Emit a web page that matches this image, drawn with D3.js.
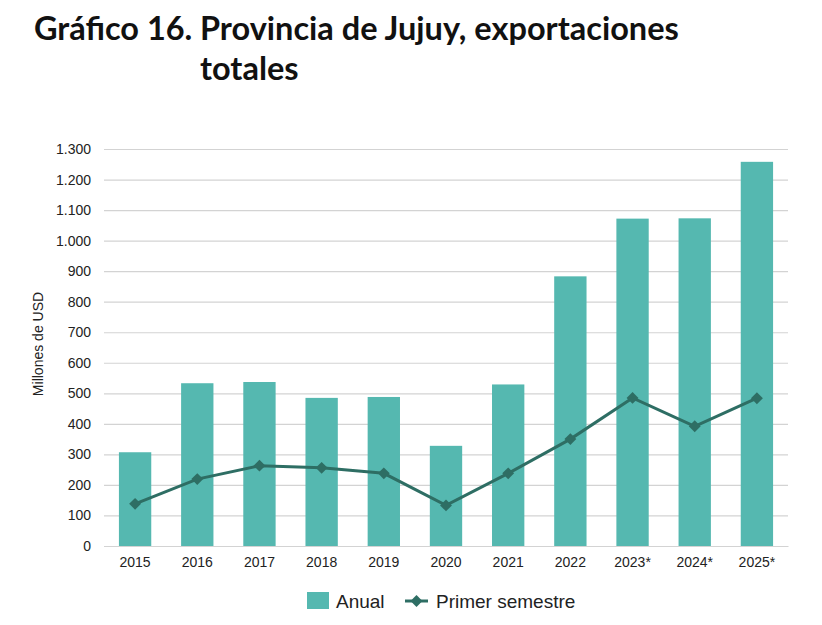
<!DOCTYPE html>
<html>
<head>
<meta charset="utf-8">
<script src="https://cdn.jsdelivr.net/npm/d3@7"></script>
<style>
  body { margin: 0; background: #fff; }
  svg { display: block; }
  .tick text { font-family: "Liberation Sans", Arial, sans-serif; font-size: 14px; fill: #222; }
</style>
</head>
<body>
<div id="chart"></div>
<script>
const width = 822;
const height = 625;

const years = ["2015", "2016", "2017", "2018", "2019", "2020", "2021", "2022", "2023*", "2024*", "2025*"];
const anual = [307, 533, 537, 485, 488, 328, 529, 883, 1072, 1073, 1258];
const primerSemestre = [138, 219, 263, 256, 238, 133, 238, 350, 485, 392, 484];
const yTicks = [0, 100, 200, 300, 400, 500, 600, 700, 800, 900, 1000, 1100, 1200, 1300];

const barColor = "#55b8b0";
const lineColor = "#2e6e64";

const margin = { top: 149, left: 104, right: 34, bottom: 79 };

const svg = d3
  .select("#chart")
  .append("svg")
  .attr("width", width)
  .attr("height", height);

// Title
const title = svg
  .append("g")
  .style("font-family", "Lato, 'Noto Sans', sans-serif")
  .style("font-weight", 700)
  .style("font-size", "32.5px")
  .attr("fill", "#111");
title.append("text").attr("x", 34).attr("y", 40).text("Gráfico 16.");
title.append("text").attr("x", 200).attr("y", 40).text("Provincia de Jujuy, exportaciones");
title.append("text").attr("x", 200).attr("y", 80).text("totales");

const x = d3
  .scaleBand()
  .domain(years)
  .range([margin.left, width - margin.right])
  .paddingInner(0.48)
  .paddingOuter(0.24);

const y = d3
  .scaleLinear()
  .domain([0, 1300])
  .range([height - margin.bottom, margin.top]);

const fmt = (v) => d3.format(",")(v).replace(/,/g, ".");

// Gridlines + y axis
const yAxis = svg
  .append("g")
  .attr("transform", `translate(${margin.left},0)`)
  .call(
    d3
      .axisLeft(y)
      .tickValues(yTicks)
      .tickFormat(fmt)
      .tickSize(-(width - margin.left - margin.right))
      .tickPadding(13)
  );
yAxis.select(".domain").remove();
yAxis.selectAll(".tick line").attr("stroke", "#d3d3d3").attr("stroke-width", 1.2);

// Bars
svg
  .append("g")
  .selectAll("rect")
  .data(anual)
  .join("rect")
  .attr("x", (d, i) => x(years[i]))
  .attr("y", (d) => y(d))
  .attr("width", x.bandwidth())
  .attr("height", (d) => y(0) - y(d))
  .attr("fill", barColor);

// X axis
const xAxis = svg
  .append("g")
  .attr("transform", `translate(0,${y(0)})`)
  .call(d3.axisBottom(x).tickSize(0).tickPadding(11));
xAxis.select(".domain").attr("stroke", "#d3d3d3").attr("stroke-width", 1.2);

// Line
const line = d3
  .line()
  .x((d, i) => x(years[i]) + x.bandwidth() / 2)
  .y((d) => y(d));

svg
  .append("path")
  .datum(primerSemestre)
  .attr("d", line)
  .attr("fill", "none")
  .attr("stroke", lineColor)
  .attr("stroke-width", 3);

const diamond = d3.symbol().type(d3.symbolDiamond2).size(90);
svg
  .append("g")
  .selectAll("path")
  .data(primerSemestre)
  .join("path")
  .attr("d", diamond)
  .attr("transform", (d, i) => `translate(${x(years[i]) + x.bandwidth() / 2},${y(d)})`)
  .attr("fill", lineColor);

// Y axis label
svg
  .append("text")
  .attr("transform", "translate(43,344) rotate(-90)")
  .attr("text-anchor", "middle")
  .style("font-family", "'Liberation Sans', Arial, sans-serif")
  .style("font-size", "14px")
  .attr("fill", "#222")
  .text("Millones de USD");

// Legend
const legend = svg
  .append("g")
  .style("font-family", "'Liberation Sans', Arial, sans-serif")
  .style("font-size", "19px")
  .attr("fill", "#222");
legend.append("rect").attr("x", 307).attr("y", 592).attr("width", 22).attr("height", 17).attr("fill", barColor);
legend.append("text").attr("x", 336).attr("y", 608).text("Anual");
legend
  .append("line")
  .attr("x1", 405)
  .attr("x2", 428)
  .attr("y1", 601)
  .attr("y2", 601)
  .attr("stroke", lineColor)
  .attr("stroke-width", 3);
legend
  .append("path")
  .attr("d", diamond)
  .attr("transform", "translate(416.5,601)")
  .attr("fill", lineColor);
legend.append("text").attr("x", 436).attr("y", 608).text("Primer semestre");
</script>
</body>
</html>
